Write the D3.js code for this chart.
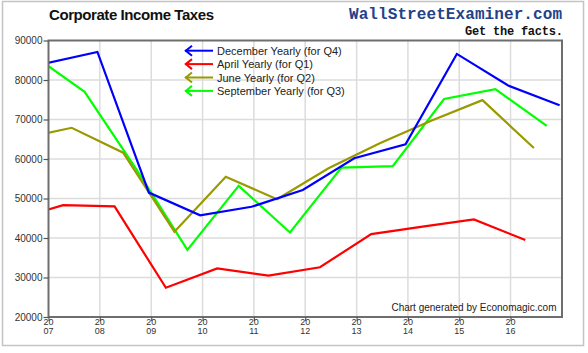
<!DOCTYPE html>
<html>
<head>
<meta charset="utf-8">
<script src="https://cdn.jsdelivr.net/npm/d3@7"></script>
<style>
  body { margin: 0; background: #fff; }
  svg { display: block; font-family: "Liberation Sans", Arial, sans-serif; }
</style>
</head>
<body>
<div id="chart"></div>
<script>
// Annual observations, year of the observation (the month comes from the series)
const years = [2006, 2007, 2008, 2009, 2010, 2011, 2012, 2013, 2014, 2015, 2016];

const decemberValues  = [84200, 87100, 51500, 45750, 47900, 52150, 60200, 63700, 86600, 78600, 73600];
const aprilValues     = [44600, 48300, 48000, 27400, 32300, 30500, 32600, 41000, 42900, 44700, 39500];
const juneValues      = [65050, 67900, 61600, 41600, 55500, 49800, 57650, 64000, 69700, 74900, 62800];
const septemberValues = [86200, 77000, 57500, 37000, 53200, 41400, 57800, 58200, 75200, 77700, 68400];

const seriesNames  = ["December Yearly (for Q4)", "April Yearly (for Q1)", "June Yearly (for Q2)", "September Yearly (for Q3)"];
const seriesMonths = [12, 4, 6, 9];
const seriesColors = ["#0000ff", "#ff0000", "#999900", "#00ff00"];
const seriesValues = [decemberValues, aprilValues, juneValues, septemberValues];

const tickYears = [2007, 2008, 2009, 2010, 2011, 2012, 2013, 2014, 2015, 2016];
const yTicks = [20000, 30000, 40000, 50000, 60000, 70000, 80000, 90000];

const width = 588, height = 353;
const plot = { left: 48.5, right: 562, top: 40.5, bottom: 317 };

const svg = d3.select("#chart")
    .append("svg")
    .attr("width", width)
    .attr("height", height);

// outer frame
svg.append("rect")
    .attr("x", 2.5).attr("y", 1.5)
    .attr("width", 581).attr("height", 344)
    .attr("fill", "#fff")
    .attr("stroke", "#c4c4c4")
    .attr("stroke-width", 1.5);

// Scales
const x = d3.scaleTime()
    .domain([new Date(2007, 0, 1), new Date(2017, 0, 1)])
    .range([plot.left, plot.right]);

const y = d3.scaleLinear()
    .domain([20000, 90000])
    .range([plot.bottom, plot.top]);

// Gridlines
svg.append("g")
    .selectAll("line")
    .data(tickYears.slice(1))
    .join("line")
    .attr("x1", d => x(new Date(d, 0, 1)))
    .attr("x2", d => x(new Date(d, 0, 1)))
    .attr("y1", plot.top)
    .attr("y2", plot.bottom)
    .attr("stroke", "#dcdcdc")
    .attr("stroke-width", 1.5);

svg.append("g")
    .selectAll("line")
    .data(yTicks.slice(1, -1))
    .join("line")
    .attr("x1", plot.left)
    .attr("x2", plot.right)
    .attr("y1", d => y(d))
    .attr("y2", d => y(d))
    .attr("stroke", "#dcdcdc")
    .attr("stroke-width", 1.5);

// Clip for the series
svg.append("clipPath")
    .attr("id", "plot-clip")
    .append("rect")
    .attr("x", plot.left).attr("y", plot.top)
    .attr("width", plot.right - plot.left)
    .attr("height", plot.bottom - plot.top);

const line = d3.line()
    .x(d => x(d.date))
    .y(d => y(d.value));

const series = seriesNames.map((name, i) => ({
    name: name,
    color: seriesColors[i],
    points: years.map((yr, j) => ({ date: new Date(yr, seriesMonths[i] - 1, 15), value: seriesValues[i][j] }))
}));

// draw order: green, olive, red, blue on top
const drawOrder = [3, 2, 1, 0];
svg.append("g")
    .attr("clip-path", "url(#plot-clip)")
    .selectAll("path")
    .data(drawOrder.map(i => series[i]))
    .join("path")
    .attr("d", d => line(d.points))
    .attr("fill", "none")
    .attr("stroke", d => d.color)
    .attr("stroke-width", 2.2)
    .attr("stroke-linejoin", "miter");

// Plot frame
svg.append("rect")
    .attr("x", plot.left).attr("y", plot.top)
    .attr("width", plot.right - plot.left)
    .attr("height", plot.bottom - plot.top)
    .attr("fill", "none")
    .attr("stroke", "#6e6e6e")
    .attr("stroke-width", 2);

// Y axis
const yAxis = svg.append("g")
    .attr("transform", `translate(${plot.left},0)`)
    .call(d3.axisLeft(y).tickValues(yTicks).tickSize(5).tickPadding(1).tickFormat(d3.format("d")));
yAxis.select(".domain").remove();
yAxis.selectAll("line").attr("stroke", "#555").attr("stroke-width", 1.2);
yAxis.selectAll("text")
    .style("font-size", "10px")
    .style("font-family", "'Liberation Sans', Arial, sans-serif")
    .attr("fill", "#333");

// X axis (two-line year labels)
const xAxis = svg.append("g")
    .attr("transform", `translate(0,${plot.bottom})`)
    .call(d3.axisBottom(x).tickValues(tickYears.map(d => new Date(d, 0, 1))).tickSize(4).tickFormat(""));
xAxis.select(".domain").remove();
xAxis.selectAll("line").attr("stroke", "#555").attr("stroke-width", 1.2);

const xLabels = svg.append("g");
xLabels.selectAll("text.century")
    .data(tickYears)
    .join("text")
    .attr("class", "century")
    .attr("x", d => x(new Date(d, 0, 1)))
    .attr("y", plot.bottom + 8)
    .attr("text-anchor", "middle")
    .style("font-size", "9px")
    .attr("fill", "#333")
    .text(d => String(d).slice(0, 2));
xLabels.selectAll("text.yr")
    .data(tickYears)
    .join("text")
    .attr("class", "yr")
    .attr("x", d => x(new Date(d, 0, 1)))
    .attr("y", plot.bottom + 17)
    .attr("text-anchor", "middle")
    .style("font-size", "9px")
    .attr("fill", "#333")
    .text(d => String(d).slice(2));

// Title
svg.append("text")
    .attr("x", 49)
    .attr("y", 19.5)
    .style("font-size", "15px")
    .style("font-weight", "bold")
    .attr("fill", "#111")
    .attr("textLength", 165)
    .text("Corporate Income Taxes");

// Branding
svg.append("text")
    .attr("x", 562)
    .attr("y", 18.5)
    .attr("text-anchor", "end")
    .style("font-family", "'Liberation Mono', 'DejaVu Sans Mono', monospace")
    .style("font-size", "16px")
    .style("font-weight", "bold")
    .attr("fill", "#24418a")
    .attr("textLength", 213)
    .text("WallStreetExaminer.com");

svg.append("text")
    .attr("x", 563)
    .attr("y", 34.5)
    .attr("text-anchor", "end")
    .style("font-family", "'Liberation Mono', 'DejaVu Sans Mono', monospace")
    .style("font-size", "12px")
    .style("font-weight", "bold")
    .attr("fill", "#111")
    .attr("textLength", 98)
    .text("Get the facts.");

// Legend
const legend = svg.append("g");
const legendItems = legend.selectAll("g")
    .data(series)
    .join("g")
    .attr("transform", (d, i) => `translate(185,${50.7 + i * 13.4})`);

legendItems.append("line")
    .attr("x1", 0).attr("x2", 28)
    .attr("stroke", d => d.color)
    .attr("stroke-width", 2);

legendItems.append("path")
    .attr("d", "M7,-5 L0.8,0 L7,5")
    .attr("fill", "none")
    .attr("stroke", d => d.color)
    .attr("stroke-width", 2);

legendItems.append("text")
    .attr("x", 32)
    .attr("y", 4)
    .style("font-size", "11px")
    .attr("fill", "#222")
    .text(d => d.name);

// Credit
svg.append("text")
    .attr("x", 556.5)
    .attr("y", 311)
    .attr("text-anchor", "end")
    .style("font-size", "10px")
    .attr("fill", "#222")
    .text("Chart generated by Economagic.com");
</script>
</body>
</html>
